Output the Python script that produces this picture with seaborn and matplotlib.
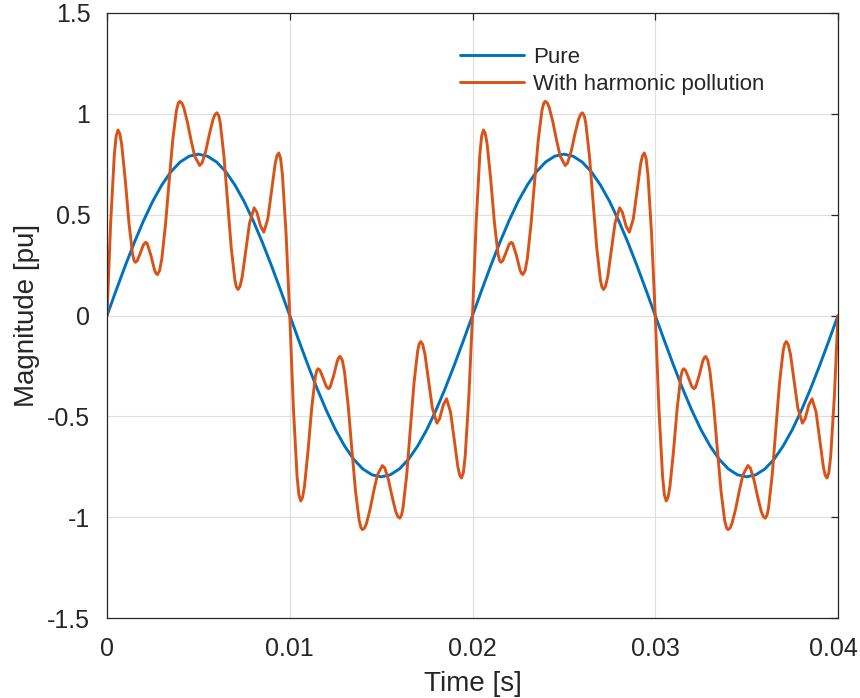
import matplotlib
matplotlib.use("Agg")
import matplotlib.pyplot as plt
import matplotlib.transforms as mtransforms
import seaborn as sns
import numpy as np

# pure 50 Hz wave, read every 0.5 ms
pure_t_ms = [0, 0.5, 1.0, 1.5, 2.0, 2.5, 3.0, 3.5, 4.0, 4.5, 5.0, 5.5, 6.0, 6.5, 7.0, 7.5, 8.0, 8.5, 9.0, 9.5,
             10.0, 10.5, 11.0, 11.5, 12.0, 12.5, 13.0, 13.5, 14.0, 14.5, 15.0, 15.5, 16.0, 16.5, 17.0, 17.5, 18.0, 18.5, 19.0, 19.5,
             20.0, 20.5, 21.0, 21.5, 22.0, 22.5, 23.0, 23.5, 24.0, 24.5, 25.0, 25.5, 26.0, 26.5, 27.0, 27.5, 28.0, 28.5, 29.0, 29.5,
             30.0, 30.5, 31.0, 31.5, 32.0, 32.5, 33.0, 33.5, 34.0, 34.5, 35.0, 35.5, 36.0, 36.5, 37.0, 37.5, 38.0, 38.5, 39.0, 39.5,
             40.0]
pure_val = [0, 0.125, 0.247, 0.363, 0.470, 0.566, 0.647, 0.713, 0.761, 0.790, 0.800, 0.790, 0.761, 0.713, 0.647, 0.566, 0.470, 0.363, 0.247, 0.125,
            0, -0.125, -0.247, -0.363, -0.470, -0.566, -0.647, -0.713, -0.761, -0.790, -0.800, -0.790, -0.761, -0.713, -0.647, -0.566, -0.470, -0.363, -0.247, -0.125,
            0, 0.125, 0.247, 0.363, 0.470, 0.566, 0.647, 0.713, 0.761, 0.790, 0.800, 0.790, 0.761, 0.713, 0.647, 0.566, 0.470, 0.363, 0.247, 0.125,
            0, -0.125, -0.247, -0.363, -0.470, -0.566, -0.647, -0.713, -0.761, -0.790, -0.800, -0.790, -0.761, -0.713, -0.647, -0.566, -0.470, -0.363, -0.247, -0.125,
            0]

# polluted wave, points (ms)
poll_t_ms = [
    0, 0.2, 0.4, 0.5, 0.6, 0.7, 0.8, 1.0, 1.2, 1.4, 1.48, 1.55, 1.65, 1.8, 2.0, 2.12, 2.2, 2.4, 2.6, 2.68, 2.76, 2.88,
    3.0, 3.2, 3.4, 3.6, 3.8, 3.9, 3.98, 4.1, 4.2, 4.4, 4.6, 4.8, 5.07, 5.2, 5.4, 5.6, 5.8, 5.92, 6.02, 6.12, 6.2, 6.4,
    6.6, 6.8, 7.0, 7.08, 7.17, 7.28, 7.4, 7.6, 7.8, 8.05, 8.2, 8.4, 8.58, 8.8, 9.0, 9.2, 9.3, 9.4, 9.5, 9.6, 9.8,
    10.0, 10.2, 10.4, 10.5, 10.6, 10.7, 10.8, 11.0, 11.2, 11.4, 11.48, 11.55, 11.65, 11.8, 12.0, 12.12, 12.2, 12.4, 12.6, 12.68, 12.76, 12.88,
    13.0, 13.2, 13.4, 13.6, 13.8, 13.9, 13.98, 14.1, 14.2, 14.4, 14.6, 14.8, 15.07, 15.2, 15.4, 15.6, 15.8, 15.92, 16.02, 16.12, 16.2, 16.4,
    16.6, 16.8, 17.0, 17.08, 17.17, 17.28, 17.4, 17.6, 17.8, 18.05, 18.2, 18.4, 18.58, 18.8, 19.0, 19.2, 19.3, 19.4, 19.5, 19.6, 19.8,
    20.0, 20.2, 20.4, 20.5, 20.6, 20.7, 20.8, 21.0, 21.2, 21.4, 21.48, 21.55, 21.65, 21.8, 22.0, 22.12, 22.2, 22.4, 22.6, 22.68, 22.76, 22.88,
    23.0, 23.2, 23.4, 23.6, 23.8, 23.9, 23.98, 24.1, 24.2, 24.4, 24.6, 24.8, 25.07, 25.2, 25.4, 25.6, 25.8, 25.92, 26.02, 26.12, 26.2, 26.4,
    26.6, 26.8, 27.0, 27.08, 27.17, 27.28, 27.4, 27.6, 27.8, 28.05, 28.2, 28.4, 28.58, 28.8, 29.0, 29.2, 29.3, 29.4, 29.5, 29.6, 29.8,
    30.0, 30.2, 30.4, 30.5, 30.6, 30.7, 30.8, 31.0, 31.2, 31.4, 31.48, 31.55, 31.65, 31.8, 32.0, 32.12, 32.2, 32.4, 32.6, 32.68, 32.76, 32.88,
    33.0, 33.2, 33.4, 33.6, 33.8, 33.9, 33.98, 34.1, 34.2, 34.4, 34.6, 34.8, 35.07, 35.2, 35.4, 35.6, 35.8, 35.92, 36.02, 36.12, 36.2, 36.4,
    36.6, 36.8, 37.0, 37.08, 37.17, 37.28, 37.4, 37.6, 37.8, 38.05, 38.2, 38.4, 38.58, 38.8, 39.0, 39.2, 39.3, 39.4, 39.5, 39.6, 39.8,
    40.0]
poll_val = [
    0, 0.46, 0.797, 0.889, 0.92, 0.902, 0.851, 0.672, 0.460, 0.303, 0.273, 0.264, 0.271, 0.304, 0.352, 0.363, 0.357, 0.299, 0.226, 0.209, 0.203, 0.223,
    0.282, 0.450, 0.666, 0.872, 1.017, 1.053, 1.062, 1.053, 1.031, 0.959, 0.869, 0.790, 0.744, 0.756, 0.814, 0.898, 0.972, 0.998, 1.005, 0.989, 0.953, 0.790,
    0.561, 0.334, 0.175, 0.142, 0.129, 0.145, 0.193, 0.324, 0.458, 0.534, 0.512, 0.444, 0.413, 0.479, 0.617, 0.751, 0.792, 0.806, 0.779, 0.698, 0.403,
    0, -0.46, -0.797, -0.889, -0.92, -0.902, -0.851, -0.672, -0.460, -0.303, -0.273, -0.264, -0.271, -0.304, -0.352, -0.363, -0.357, -0.299, -0.226, -0.209, -0.203, -0.223,
    -0.282, -0.450, -0.666, -0.872, -1.017, -1.053, -1.062, -1.053, -1.031, -0.959, -0.869, -0.790, -0.744, -0.756, -0.814, -0.898, -0.972, -0.998, -1.005, -0.989, -0.953, -0.790,
    -0.561, -0.334, -0.175, -0.142, -0.129, -0.145, -0.193, -0.324, -0.458, -0.534, -0.512, -0.444, -0.413, -0.479, -0.617, -0.751, -0.792, -0.806, -0.779, -0.698, -0.403,
    0, 0.46, 0.797, 0.889, 0.92, 0.902, 0.851, 0.672, 0.460, 0.303, 0.273, 0.264, 0.271, 0.304, 0.352, 0.363, 0.357, 0.299, 0.226, 0.209, 0.203, 0.223,
    0.282, 0.450, 0.666, 0.872, 1.017, 1.053, 1.062, 1.053, 1.031, 0.959, 0.869, 0.790, 0.744, 0.756, 0.814, 0.898, 0.972, 0.998, 1.005, 0.989, 0.953, 0.790,
    0.561, 0.334, 0.175, 0.142, 0.129, 0.145, 0.193, 0.324, 0.458, 0.534, 0.512, 0.444, 0.413, 0.479, 0.617, 0.751, 0.792, 0.806, 0.779, 0.698, 0.403,
    0, -0.46, -0.797, -0.889, -0.92, -0.902, -0.851, -0.672, -0.460, -0.303, -0.273, -0.264, -0.271, -0.304, -0.352, -0.363, -0.357, -0.299, -0.226, -0.209, -0.203, -0.223,
    -0.282, -0.450, -0.666, -0.872, -1.017, -1.053, -1.062, -1.053, -1.031, -0.959, -0.869, -0.790, -0.744, -0.756, -0.814, -0.898, -0.972, -0.998, -1.005, -0.989, -0.953, -0.790,
    -0.561, -0.334, -0.175, -0.142, -0.129, -0.145, -0.193, -0.324, -0.458, -0.534, -0.512, -0.444, -0.413, -0.479, -0.617, -0.751, -0.792, -0.806, -0.779, -0.698, -0.403,
    0]

x_ticks = [0, 0.01, 0.02, 0.03, 0.04]
x_labels = ["0", "0.01", "0.02", "0.03", "0.04"]
y_ticks = [-1.5, -1, -0.5, 0, 0.5, 1, 1.5]
y_labels = ["-1.5", "-1", "-0.5", "0", "0.5", "1", "1.5"]

sns.set_style("white")
plt.rcParams['font.family'] = ['Liberation Sans', 'DejaVu Sans']
ink = "#262626"

fig = plt.figure(figsize=(8.6, 6.98), dpi=100)
ax = fig.add_axes([107/860, 1 - 618/698, (838-107)/860, (618-13)/698])

sns.lineplot(x=np.array(pure_t_ms)/1000, y=pure_val, ax=ax, color="#0072BD", linewidth=2.1,
             estimator=None, label="Pure")
sns.lineplot(x=np.array(poll_t_ms)/1000, y=poll_val, ax=ax, color="#D95319", linewidth=2.1,
             estimator=None, label="With harmonic pollution")

ax.set_xlim(0, 0.04)
ax.set_ylim(-1.5, 1.5)
ax.set_xticks(x_ticks)
ax.set_xticklabels(x_labels)
ax.set_yticks(y_ticks)
ax.set_yticklabels(y_labels)
ax.grid(True, color="#dedede", linewidth=0.8)
ax.set_axisbelow(True)
for s in ax.spines.values():
    s.set_visible(True)
    s.set_color(ink)
    s.set_linewidth(0.9)
ax.tick_params(direction="in", length=5, width=0.9, colors=ink, labelsize=18,
               top=True, right=True)
ax.tick_params(axis="x", pad=14)
ax.tick_params(axis="y", pad=12)
ax.set_xlabel("Time [s]", fontsize=20, color=ink, labelpad=7)
ax.set_ylabel("Magnitude [pu]", fontsize=20, color=ink, labelpad=5)

# keep the last x label inside the figure, like the reference
last = ax.get_xticklabels()[-1]
last.set_transform(last.get_transform() + mtransforms.ScaledTranslation(-5/100, 0, fig.dpi_scale_trans))

ax.legend(loc="upper left", bbox_to_anchor=(460/860, 1 - 47/698), bbox_transform=fig.transFigure,
          frameon=False, fontsize=16, handlelength=2.9, handletextpad=0.4,
          labelspacing=0.25, borderpad=0, borderaxespad=0)

fig.savefig("out.png", dpi=100)
